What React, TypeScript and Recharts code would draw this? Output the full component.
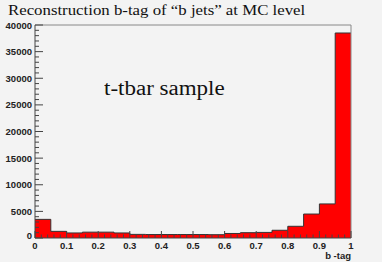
import React from "react";
import { Area, AreaChart, ReferenceLine, XAxis, YAxis } from "recharts";

// bin edges of the b-tag histogram (20 bins of 0.05)
const binEdges = [
  0, 0.05, 0.1, 0.15, 0.2, 0.25, 0.3, 0.35, 0.4, 0.45, 0.5, 0.55, 0.6, 0.65,
  0.7, 0.75, 0.8, 0.85, 0.9, 0.95, 1,
];
// entries per bin
const counts = [
  3500, 1250, 950, 1100, 1100, 950, 680, 650, 650, 650, 650, 620, 850, 1000,
  1050, 1450, 2200, 4500, 6400, 38500,
];

const xMajor = [0, 0.1, 0.2, 0.3, 0.4, 0.5, 0.6, 0.7, 0.8, 0.9, 1];
const yMajor = [0, 5000, 10000, 15000, 20000, 25000, 30000, 35000, 40000];
const xTicks = Array.from({ length: 51 }, (_, i) => +(i * 0.02).toFixed(2));
const yTicks = Array.from({ length: 41 }, (_, i) => i * 1000);

// step series: value held from each lower edge, closed at the last edge
const series = binEdges.map((x, i) => ({
  x,
  v: counts[Math.min(i, counts.length - 1)],
}));

const W = 382;
const H = 262;
const L = 35;
const R = 351;
const T = 25;
const B = 238;
const BG = "#f3f3f3";
const AXIS = "#444";
const LABEL_FONT = "'Liberation Sans', Arial, sans-serif";
const SERIF = "'Liberation Serif', 'Times New Roman', serif";

function XTick(props: any) {
  const { x, payload } = props;
  const v = payload.value as number;
  const major = xMajor.some((m) => Math.abs(m - v) < 1e-6);
  return (
    <g>
      <line x1={x} x2={x} y1={B} y2={B - (major ? 7 : 3.5)} stroke={AXIS} strokeWidth={1} />
      {major && (
        <text
          x={x}
          y={B + 11}
          textAnchor="middle"
          fontSize={9.5}
          fontWeight="bold"
          fontFamily={LABEL_FONT}
          fill="#222"
        >
          {v === 0 ? "0" : String(v)}
        </text>
      )}
    </g>
  );
}

function YTick(props: any) {
  const { y, payload } = props;
  const v = payload.value as number;
  const major = yMajor.includes(v);
  return (
    <g>
      <line x1={L} x2={L + (major ? 8 : 4)} y1={y} y2={y} stroke={AXIS} strokeWidth={1} />
      {major && (
        <text
          x={L - 3}
          y={v === 0 ? y + 1 : y + 3.5}
          textAnchor="end"
          fontSize={9.5}
          fontWeight="bold"
          fontFamily={LABEL_FONT}
          fill="#222"
        >
          {v}
        </text>
      )}
    </g>
  );
}

export default function App() {
  return (
    <div
      style={{
        position: "absolute",
        left: 0,
        top: 0,
        width: W,
        height: H,
        background: BG,
        overflow: "hidden",
      }}
    >
      <AreaChart
        width={W}
        height={H}
        data={series}
        margin={{ top: T, right: W - R, left: 0, bottom: 0 }}
      >
        <Area
          type="stepAfter"
          dataKey="v"
          baseValue={0}
          stroke="#333"
          strokeWidth={1}
          fill="#ff0000"
          fillOpacity={1}
          isAnimationActive={false}
          dot={false}
          activeDot={false}
        />
        <ReferenceLine y={40000} stroke="#888" strokeWidth={1} />
        <ReferenceLine x={1} stroke="#888" strokeWidth={1} />
        <XAxis
          dataKey="x"
          type="number"
          domain={[0, 1]}
          ticks={xTicks}
          interval={0}
          height={H - B}
          tickLine={false}
          axisLine={{ stroke: AXIS }}
          tick={<XTick />}
        />
        <YAxis
          type="number"
          domain={[0, 40000]}
          ticks={yTicks}
          interval={0}
          width={L}
          tickLine={false}
          axisLine={{ stroke: AXIS }}
          tick={<YTick />}
        />
      </AreaChart>
      <div
        style={{
          position: "absolute",
          left: 8,
          top: 0,
          fontFamily: SERIF,
          fontSize: 15,
          lineHeight: "20px",
          color: "#111",
          whiteSpace: "nowrap",
          transform: "scaleX(1.12)",
          transformOrigin: "left top",
        }}
      >
        Reconstruction b-tag of “b jets” at MC level
      </div>
      <div
        style={{
          position: "absolute",
          left: 104,
          top: 77,
          fontFamily: SERIF,
          fontSize: 20,
          lineHeight: "22px",
          color: "#111",
          whiteSpace: "nowrap",
          transform: "scaleX(1.15)",
          transformOrigin: "left top",
        }}
      >
        t-tbar sample
      </div>
      <div
        style={{
          position: "absolute",
          right: W - R,
          top: 250,
          fontFamily: LABEL_FONT,
          fontSize: 9.5,
          fontWeight: "bold",
          lineHeight: "11px",
          color: "#222",
          whiteSpace: "nowrap",
        }}
      >
        b -tag
      </div>
    </div>
  );
}
